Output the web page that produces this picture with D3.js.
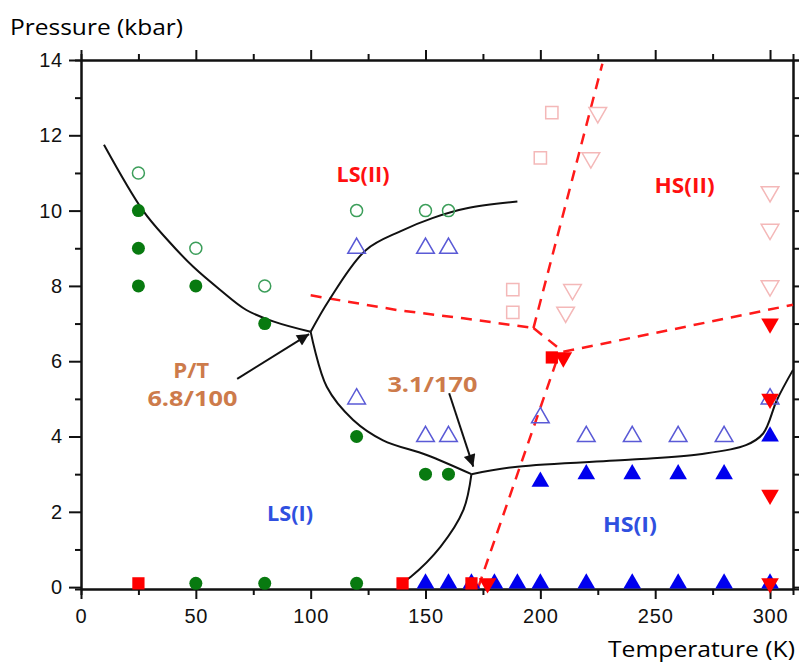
<!DOCTYPE html>
<html>
<head>
<meta charset="utf-8">
<script src="https://cdn.jsdelivr.net/npm/d3@7"></script>
<style>
  body { margin: 0; background: #fff; }
  svg { display: block; }
</style>
</head>
<body>
<div id="chart"></div>
<script>
// data: [temperature K, pressure kbar]
const greenFilled = [[25, 10], [25, 9], [25, 8], [50, 8], [80, 7], [120, 4], [150, 3], [160, 3],
  [50, 0.1], [80, 0.1], [120, 0.1]];
const greenOpen = [[25, 11], [50, 9], [80, 8], [120, 10], [150, 10], [160, 10]];
const blueOpen = [[120, 9], [150, 9], [160, 9], [120, 5], [150, 4], [160, 4], [200, 4.5],
  [220, 4], [240, 4], [260, 4], [280, 4], [300, 5]];
const blueFilled = [[200, 2.8], [220, 3], [240, 3], [260, 3], [280, 3], [300, 4],
  [150, 0.1], [160, 0.1], [170, 0.1], [180, 0.1], [190, 0.1], [200, 0.1], [220, 0.1],
  [240, 0.1], [260, 0.1], [280, 0.1], [300, 0.1]];
const pinkSquares = [[205, 12.6], [200, 11.4], [188, 7.9], [188, 7.3]];
const pinkDown = [[225, 12.6], [222, 11.4], [214, 7.9], [211, 7.3], [300, 10.5], [300, 9.5], [300, 8]];
const redSquares = [[25, 0.1], [140, 0.1], [170, 0.1], [205, 6.1]];
const redDown = [[177, 0.1], [210, 6.1], [300, 7], [300, 5], [300, 2.45], [300, 0.1]];

// phase boundaries
const solidLines = [
  [[10, 11.75], [27, 10.0], [38, 9.2], [49, 8.5], [60.5, 7.9], [72, 7.36], [84, 7.05], [100, 6.78]],
  [[100, 6.78], [108, 7.62], [124, 8.95], [139, 9.45], [153, 9.8], [168, 10.06], [190, 10.24]],
  [[100, 6.78], [107, 5.32], [118.5, 4.44], [131.5, 3.9], [150.5, 3.51], [170, 3.0]],
  [[170, 3.0], [190, 3.2], [240, 3.39], [269.5, 3.53], [289.5, 3.77], [297, 4.08], [303, 4.97], [310, 5.77]],
  [[170, 3.0], [166.5, 2.05], [156.5, 1.07], [143.5, 0.27], [140.5, 0.15]]
];
const dashedLines = [
  [[100, 7.75], [137.5, 7.36], [166.5, 7.14], [197, 6.88]],
  [[197, 6.88], [227, 13.9]],
  [[197, 6.88], [210, 6.25]],
  [[210, 6.25], [310, 7.5]],
  [[207, 6.0], [173, 0.0]]
];

const labels = [
  { text: 'LS(II)', t: 122.8, p: 11.0, w: 53, color: '#ff1010' },
  { text: 'HS(II)', t: 262.8, p: 10.7, w: 60, color: '#ff1010' },
  { text: 'LS(I)', t: 91, p: 2.0, w: 46, color: '#2f50e0' },
  { text: 'HS(I)', t: 239, p: 1.7, w: 54, color: '#2f50e0' },
  { text: 'P/T', t: 48, p: 5.78, w: 36, color: '#cd7b4b' },
  { text: '6.8/100', t: 48.5, p: 5.05, w: 90, color: '#cd7b4b' },
  { text: '3.1/170', t: 153, p: 5.42, w: 90, color: '#cd7b4b' }
];
const arrows = [
  { from: [68, 5.53], to: [99.3, 6.72] },
  { from: [160.3, 5.15], to: [170.8, 3.2] }
];

const xMajor = [0, 50, 100, 150, 200, 250, 300];
const xMinor = [25, 75, 125, 175, 225, 275];
const yMajor = [0, 2, 4, 6, 8, 10, 12, 14];
const yMinor = [1, 3, 5, 7, 9, 11, 13];

const width = 799, height = 666;
const margin = { top: 60, right: 6, bottom: 77, left: 81 };

const svg = d3.select('#chart')
  .append('svg')
  .attr('width', width)
  .attr('height', height);

const x = d3.scaleLinear().domain([0, 310]).range([margin.left, width - margin.right]);
const y = d3.scaleLinear().domain([-0.05, 14]).range([height - margin.bottom, margin.top]);

const xr = x.range(), yr = y.range();

// axes
const axisFont = 'Liberation Sans, Arial, sans-serif';
const styleAxis = (g) => {
  g.select('.domain').attr('stroke', '#111').attr('stroke-width', 2);
  g.selectAll('.tick line').attr('stroke', '#111').attr('stroke-width', 2);
  g.selectAll('text').attr('fill', '#111').style('font-family', axisFont)
    .style('font-size', '20px').style('letter-spacing', '0.8px');
};

svg.append('g')
  .attr('transform', 'translate(0,' + yr[0] + ')')
  .call(d3.axisBottom(x).tickValues(xMajor).tickSize(10).tickSizeOuter(0).tickPadding(10))
  .call(styleAxis);
svg.append('g')
  .attr('transform', 'translate(0,' + yr[0] + ')')
  .call(d3.axisBottom(x).tickValues(xMinor).tickSize(6).tickFormat(''))
  .call(styleAxis);
svg.append('g')
  .attr('transform', 'translate(0,' + yr[1] + ')')
  .call(d3.axisTop(x).tickValues(xMajor).tickSize(10).tickSizeOuter(0).tickFormat(''))
  .call(styleAxis);
svg.append('g')
  .attr('transform', 'translate(0,' + yr[1] + ')')
  .call(d3.axisTop(x).tickValues(xMinor).tickSize(6).tickFormat(''))
  .call(styleAxis);

svg.append('g')
  .attr('transform', 'translate(' + xr[0] + ',0)')
  .call(d3.axisLeft(y).tickValues(yMajor).tickSize(12).tickSizeOuter(0).tickPadding(6))
  .call(styleAxis);
svg.append('g')
  .attr('transform', 'translate(' + xr[0] + ',0)')
  .call(d3.axisLeft(y).tickValues(yMinor).tickSize(6).tickFormat(''))
  .call(styleAxis);
svg.append('g')
  .attr('transform', 'translate(' + xr[1] + ',0)')
  .call(d3.axisRight(y).tickValues(yMajor).tickSize(8).tickSizeOuter(0).tickFormat(''))
  .call(styleAxis);
svg.append('g')
  .attr('transform', 'translate(' + xr[1] + ',0)')
  .call(d3.axisRight(y).tickValues(yMinor).tickSize(6).tickFormat(''))
  .call(styleAxis);

// axis titles
const titleFont = 'Open Sans, Noto Sans, sans-serif';
svg.append('text')
  .attr('x', 10)
  .attr('y', 35)
  .attr('fill', '#000')
  .attr('textLength', 173)
  .attr('lengthAdjust', 'spacingAndGlyphs')
  .style('font-family', titleFont)
  .style('font-size', '22px')
  .text('Pressure (kbar)');
svg.append('text')
  .attr('x', 608)
  .attr('y', 657)
  .attr('fill', '#000')
  .attr('textLength', 187)
  .attr('lengthAdjust', 'spacingAndGlyphs')
  .style('font-family', titleFont)
  .style('font-size', '22px')
  .text('Temperature (K)');

const plot = svg.append('g');

// phase boundaries
const line = d3.line()
  .x((d) => x(d[0]))
  .y((d) => y(d[1]));

plot.selectAll('.dashed')
  .data(dashedLines)
  .enter()
  .append('path')
  .attr('class', 'dashed')
  .attr('d', line)
  .attr('fill', 'none')
  .attr('stroke', '#ff1a1a')
  .attr('stroke-width', 2.5)
  .attr('stroke-dasharray', '11,8');

plot.selectAll('.solid')
  .data(solidLines)
  .enter()
  .append('path')
  .attr('class', 'solid')
  .attr('d', line.curve(d3.curveCatmullRom))
  .attr('fill', 'none')
  .attr('stroke', '#111')
  .attr('stroke-width', 2);

// markers
const tri = d3.symbol().type(d3.symbolTriangle).size(135)();
const sq = d3.symbol().type(d3.symbolSquare).size(150)();

const drawSymbols = (data, path, fill, stroke, rot) => {
  plot.append('g')
    .selectAll('path')
    .data(data)
    .enter()
    .append('path')
    .attr('d', path)
    .attr('transform', (d) => 'translate(' + x(d[0]) + ',' + y(d[1]) + ')' + (rot ? ' rotate(180)' : ''))
    .attr('fill', fill)
    .attr('stroke', stroke)
    .attr('stroke-width', 1.5);
};

plot.append('g')
  .selectAll('circle')
  .data(greenOpen)
  .enter()
  .append('circle')
  .attr('cx', (d) => x(d[0]))
  .attr('cy', (d) => y(d[1]))
  .attr('r', 6)
  .attr('fill', 'none')
  .attr('stroke', '#3c9e5a')
  .attr('stroke-width', 1.5);

plot.append('g')
  .selectAll('circle')
  .data(greenFilled)
  .enter()
  .append('circle')
  .attr('cx', (d) => x(d[0]))
  .attr('cy', (d) => y(d[1]))
  .attr('r', 6.5)
  .attr('fill', '#087a10');

drawSymbols(pinkSquares, sq, 'none', '#f4b8b8', false);
drawSymbols(pinkDown, tri, 'none', '#f4b8b8', true);
drawSymbols(blueOpen, tri, 'none', '#5a5ad6', false);
drawSymbols(blueFilled, tri, '#0000ee', 'none', false);
drawSymbols(redSquares, sq, '#ff0000', 'none', false);
drawSymbols(redDown, tri, '#ff0000', 'none', true);

// arrows
svg.append('defs')
  .append('marker')
  .attr('id', 'head')
  .attr('viewBox', '0 0 10 10')
  .attr('refX', 10)
  .attr('refY', 5)
  .attr('markerWidth', 8)
  .attr('markerHeight', 6)
  .attr('orient', 'auto')
  .append('path')
  .attr('d', 'M0,0 L10,5 L0,10 z')
  .attr('fill', '#111');

plot.selectAll('.arrow')
  .data(arrows)
  .enter()
  .append('line')
  .attr('class', 'arrow')
  .attr('x1', (d) => x(d.from[0]))
  .attr('y1', (d) => y(d.from[1]))
  .attr('x2', (d) => x(d.to[0]))
  .attr('y2', (d) => y(d.to[1]))
  .attr('stroke', '#111')
  .attr('stroke-width', 2)
  .attr('marker-end', 'url(#head)');

// region labels
plot.selectAll('.label')
  .data(labels)
  .enter()
  .append('text')
  .attr('class', 'label')
  .attr('x', (d) => x(d.t) - d.w / 2)
  .attr('y', (d) => y(d.p))
  .attr('textLength', (d) => d.w)
  .attr('lengthAdjust', 'spacingAndGlyphs')
  .attr('dominant-baseline', 'central')
  .attr('fill', (d) => d.color)
  .style('font-family', 'Open Sans, sans-serif')
  .style('font-weight', 'bold')
  .style('font-size', '22px')
  .text((d) => d.text);
</script>
</body>
</html>
